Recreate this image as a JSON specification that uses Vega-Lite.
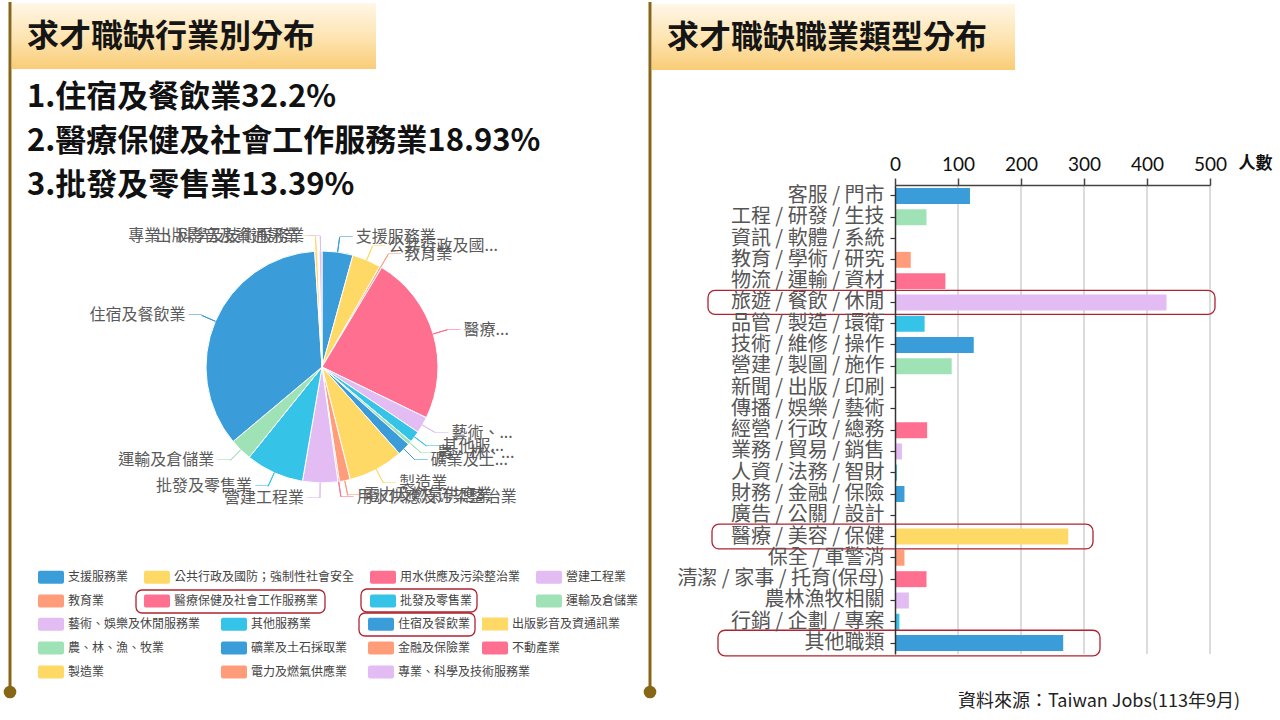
{
  "$schema": "https://vega.github.io/schema/vega-lite/v6.json",
  "padding": 0,
  "spacing": 0,
  "bounds": "flush",
  "background": "#ffffff",
  "config": {
    "view": {"stroke": null},
    "font": "Noto Sans CJK TC",
    "legend": {
      "direction": "horizontal",
      "symbolType": "M-0.85,-0.5L0.85,-0.5Q1,-0.5 1,-0.35L1,0.35Q1,0.5 0.85,0.5L-0.85,0.5Q-1,0.5 -1,0.35L-1,-0.35Q-1,-0.5 -0.85,-0.5Z",
      "symbolSize": 676,
      "symbolStrokeWidth": 0,
      "symbolOpacity": 1,
      "labelFontSize": 12,
      "labelFont": "Noto Sans CJK TC",
      "labelColor": "#444444",
      "labelOffset": 4,
      "columnPadding": 12,
      "rowPadding": 4,
      "labelLimit": 400,
      "padding": 0
    }
  },
  "datasets": {
    "ind": [
      {"idx": 1, "cat": "支援服務業", "label": "支援服務業", "pct": 4.3},
      {"idx": 2, "cat": "公共行政及國防；強制性社會安全", "label": "公共行政及國...", "pct": 4.0},
      {"idx": 3, "cat": "教育業", "label": "教育業", "pct": 0.3},
      {"idx": 4, "cat": "醫療保健及社會工作服務業", "label": "醫療...", "pct": 23.6},
      {"idx": 5, "cat": "藝術、娛樂及休閒服務業", "label": "藝術、...", "pct": 2.3},
      {"idx": 6, "cat": "其他服務業", "label": "其他服...", "pct": 1.6},
      {"idx": 7, "cat": "農、林、漁、牧業", "label": "農、林、...", "pct": 0.5},
      {"idx": 8, "cat": "礦業及土石採取業", "label": "礦業及土...", "pct": 1.8},
      {"idx": 9, "cat": "製造業", "label": "製造業", "pct": 7.7},
      {"idx": 10, "cat": "電力及燃氣供應業", "label": "電力及燃氣供應業", "pct": 1.5},
      {"idx": 11, "cat": "用水供應及污染整治業", "label": "用水供應及污染整治業", "pct": 0.2},
      {"idx": 12, "cat": "營建工程業", "label": "營建工程業", "pct": 4.9},
      {"idx": 13, "cat": "批發及零售業", "label": "批發及零售業", "pct": 8.1},
      {"idx": 14, "cat": "運輸及倉儲業", "label": "運輸及倉儲業", "pct": 3.1},
      {"idx": 15, "cat": "住宿及餐飲業", "label": "住宿及餐飲業", "pct": 35.1},
      {"idx": 16, "cat": "出版影音及資通訊業", "label": "出版影音及資通訊業", "pct": 0.4},
      {"idx": 17, "cat": "金融及保險業", "label": "", "pct": 0.1},
      {"idx": 18, "cat": "不動產業", "label": "", "pct": 0.1},
      {"idx": 19, "cat": "專業、科學及技術服務業", "label": "專業、科學及技術服務業", "pct": 0.4}
    ],
    "top3": [
      {"rank": 1, "line": "1.住宿及餐飲業32.2%"},
      {"rank": 2, "line": "2.醫療保健及社會工作服務業18.93%"},
      {"rank": 3, "line": "3.批發及零售業13.39%"}
    ],
    "job": [
      {"cat": "客服 / 門市", "n": 119},
      {"cat": "工程 / 研發 / 生技", "n": 50},
      {"cat": "資訊 / 軟體 / 系統", "n": 1},
      {"cat": "教育 / 學術 / 研究", "n": 25},
      {"cat": "物流 / 運輸 / 資材", "n": 80},
      {"cat": "旅遊 / 餐飲 / 休閒", "n": 431},
      {"cat": "品管 / 製造 / 環衛", "n": 47},
      {"cat": "技術 / 維修 / 操作", "n": 125},
      {"cat": "營建 / 製圖 / 施作", "n": 90},
      {"cat": "新聞 / 出版 / 印刷", "n": 0},
      {"cat": "傳播 / 娛樂 / 藝術", "n": 1},
      {"cat": "經營 / 行政 / 總務", "n": 51},
      {"cat": "業務 / 貿易 / 銷售", "n": 11},
      {"cat": "人資 / 法務 / 智財", "n": 3},
      {"cat": "財務 / 金融 / 保險", "n": 15},
      {"cat": "廣告 / 公關 / 設計", "n": 0},
      {"cat": "醫療 / 美容 / 保健", "n": 275},
      {"cat": "保全 / 軍警消", "n": 15},
      {"cat": "清潔 / 家事 / 托育(保母)", "n": 50},
      {"cat": "農林漁牧相關", "n": 22},
      {"cat": "行銷 / 企劃 / 專案", "n": 7},
      {"cat": "其他職類", "n": 267}
    ],
    "ticks": [{"n": 100}, {"n": 200}, {"n": 300}, {"n": 400}, {"n": 500}]
  },
  "resolve": {"scale": {"color": "independent"}, "legend": {"color": "independent"}},
  "hconcat": [
    {
      "width": 644,
      "height": 730,
      "layer": [
        {"data": {"values": [{}]}, "mark": {"type": "rule", "color": "#876716", "strokeWidth": 3}, "encoding": {"x": {"value": 10}, "y": {"value": 0}, "y2": {"value": 690}}},
        {"data": {"values": [{}]}, "mark": {"type": "point", "shape": "circle", "filled": true, "color": "#876716", "opacity": 1, "size": 160}, "encoding": {"x": {"value": 10}, "y": {"value": 690}}},
        {"data": {"values": [{}]}, "mark": {"type": "rect", "fill": {"gradient": "linear", "x1": 0, "y1": 0, "x2": 0, "y2": 1, "stops": [{"offset": 0, "color": "#fff7e8"}, {"offset": 0.55, "color": "#fde3ae"}, {"offset": 1, "color": "#f9cc76"}]}}, "encoding": {"x": {"value": 12}, "x2": {"value": 376}, "y": {"value": 1}, "y2": {"value": 67}}},
        {"data": {"values": [{}]}, "mark": {"type": "text", "text": "求才職缺行業別分布", "align": "left", "baseline": "middle", "fontSize": 32, "fontWeight": "bold", "color": "#151515"}, "encoding": {"x": {"value": 27}, "y": {"value": 35}}},
        {
          "data": {"name": "top3"},
          "mark": {"type": "text", "align": "left", "baseline": "middle", "fontSize": 31, "fontWeight": "bold", "color": "#111111"},
          "encoding": {
            "x": {"value": 27},
            "y": {"field": "rank", "type": "ordinal", "scale": {"type": "point", "range": [96, 184], "padding": 0}, "axis": null},
            "text": {"field": "line"}
          }
        },
        {
          "data": {"name": "ind"},
          "mark": {"type": "arc", "outerRadius": 116, "stroke": "#ffffff", "strokeWidth": 1},
          "encoding": {
            "theta": {"field": "pct", "type": "quantitative", "stack": true},
            "order": {"field": "idx", "type": "quantitative"},
            "color": {
              "field": "cat", "type": "nominal",
              "scale": {"domain": ["支援服務業","公共行政及國防；強制性社會安全","教育業","醫療保健及社會工作服務業","藝術、娛樂及休閒服務業","其他服務業","農、林、漁、牧業","礦業及土石採取業","製造業","電力及燃氣供應業","用水供應及污染整治業","營建工程業","批發及零售業","運輸及倉儲業","住宿及餐飲業","出版影音及資通訊業","金融及保險業","不動產業","專業、科學及技術服務業"], "range": ["#3a9dd9","#ffd966","#ff9d7b","#ff6f8f","#e2bcf3","#36c3e8","#9fe2b6"]},
              "legend": {"title": null, "orient": "none", "legendX": 38, "legendY": 562, "direction": "horizontal", "columns": 4, "columnPadding": 15, "values": ["支援服務業","公共行政及國防；強制性社會安全","用水供應及污染整治業","營建工程業","教育業","醫療保健及社會工作服務業","批發及零售業","運輸及倉儲業"]}
            }
          }
        },
        {
          "data": {"name": "ind"},
          "transform": [{"filter": "false"}],
          "mark": {"type": "arc", "opacity": 1},
          "encoding": {
            "theta": {"field": "pct", "type": "quantitative"},
            "fill": {
              "field": "cat", "type": "nominal",
              "scale": {"domain": ["藝術、娛樂及休閒服務業","其他服務業","住宿及餐飲業","農、林、漁、牧業","礦業及土石採取業","金融及保險業","製造業","電力及燃氣供應業","專業、科學及技術服務業"], "range": ["#e2bcf3","#36c3e8","#3a9dd9","#9fe2b6","#3a9dd9","#ff9d7b","#ffd966","#ff9d7b","#e2bcf3"]},
              "legend": {"title": null, "orient": "none", "legendX": 38, "legendY": 609, "direction": "horizontal", "columns": 3, "columnPadding": 20}
            }
          }
        },
        {
          "data": {"name": "ind"},
          "transform": [{"filter": "false"}],
          "mark": {"type": "arc", "filled": false, "opacity": 1},
          "encoding": {
            "theta": {"field": "pct", "type": "quantitative"},
            "stroke": {
              "field": "cat", "type": "nominal",
              "scale": {"domain": ["出版影音及資通訊業"], "range": ["#ffd966"]},
              "legend": {"title": null, "orient": "none", "legendX": 482, "legendY": 609, "direction": "horizontal", "columns": 1, "rowPadding": 4, "labelOffset": 4, "symbolType": "M-2,0L2,0", "symbolSize": 169, "symbolStrokeWidth": 13, "symbolFillColor": "transparent"}
            }
          }
        },
        {
          "data": {"name": "ind"},
          "transform": [{"filter": "false"}],
          "mark": {"type": "point", "filled": true, "color": "#ff6f8f", "opacity": 1},
          "encoding": {
            "shape": {
              "field": "cat", "type": "nominal",
              "scale": {"domain": ["不動產業"], "range": ["M-0.85,-0.5L0.85,-0.5Q1,-0.5 1,-0.35L1,0.35Q1,0.5 0.85,0.5L-0.85,0.5Q-1,0.5 -1,0.35L-1,-0.35Q-1,-0.5 -0.85,-0.5Z"]},
              "legend": {"title": null, "orient": "none", "legendX": 482, "legendY": 633, "direction": "horizontal", "columns": 1, "symbolFillColor": "#ff6f8f", "symbolStrokeWidth": 0, "symbolOpacity": 1}
            }
          }
        },
        {
          "data": {"name": "ind"},
          "transform": [
            {"stack": "pct", "groupby": [], "sort": [{"field": "idx", "order": "ascending"}], "as": ["s0", "s1"]},
            {"fold": ["s0", "s1"], "as": ["edge", "v"]},
            {"aggregate": [{"op": "mean", "field": "v", "as": "mid"}], "groupby": ["cat", "label", "idx"]},
            {"filter": "datum.label != ''"}
          ],
          "mark": {"type": "arc", "innerRadius": 116, "outerRadius": 131, "filled": false, "strokeWidth": 1},
          "encoding": {
            "theta": {"field": "mid", "type": "quantitative", "stack": null},
            "theta2": {"field": "mid"},
            "color": {
              "field": "cat", "type": "nominal",
              "scale": {"domain": ["支援服務業","公共行政及國防；強制性社會安全","教育業","醫療保健及社會工作服務業","藝術、娛樂及休閒服務業","其他服務業","農、林、漁、牧業","礦業及土石採取業","製造業","電力及燃氣供應業","用水供應及污染整治業","營建工程業","批發及零售業","運輸及倉儲業","住宿及餐飲業","出版影音及資通訊業","金融及保險業","不動產業","專業、科學及技術服務業"], "range": ["#3a9dd9","#ffd966","#ff9d7b","#ff6f8f","#e2bcf3","#36c3e8","#9fe2b6"]},
              "legend": null
            }
          }
        },
        {
          "data": {"name": "ind"},
          "transform": [
            {"stack": "pct", "groupby": [], "sort": [{"field": "idx", "order": "ascending"}], "as": ["s0", "s1"]},
            {"fold": ["s0", "s1"], "as": ["edge", "v"]},
            {"aggregate": [{"op": "mean", "field": "v", "as": "mid"}], "groupby": ["cat", "label", "idx"]},
            {"filter": "datum.label != '' && datum.mid < 50"}
          ],
          "mark": {"type": "text", "text": "─", "radius": 131, "align": "left", "baseline": "middle", "fontSize": 13},
          "encoding": {
            "theta": {"field": "mid", "type": "quantitative", "stack": null},
            "color": {
              "field": "cat", "type": "nominal",
              "scale": {"domain": ["支援服務業","公共行政及國防；強制性社會安全","教育業","醫療保健及社會工作服務業","藝術、娛樂及休閒服務業","其他服務業","農、林、漁、牧業","礦業及土石採取業","製造業","電力及燃氣供應業","用水供應及污染整治業","營建工程業","批發及零售業","運輸及倉儲業","住宿及餐飲業","出版影音及資通訊業","金融及保險業","不動產業","專業、科學及技術服務業"], "range": ["#3a9dd9","#ffd966","#ff9d7b","#ff6f8f","#e2bcf3","#36c3e8","#9fe2b6"]},
              "legend": null
            }
          }
        },
        {
          "data": {"name": "ind"},
          "transform": [
            {"stack": "pct", "groupby": [], "sort": [{"field": "idx", "order": "ascending"}], "as": ["s0", "s1"]},
            {"fold": ["s0", "s1"], "as": ["edge", "v"]},
            {"aggregate": [{"op": "mean", "field": "v", "as": "mid"}], "groupby": ["cat", "label", "idx"]},
            {"filter": "datum.label != '' && datum.mid >= 50"}
          ],
          "mark": {"type": "text", "text": "─", "radius": 131, "align": "right", "baseline": "middle", "fontSize": 13},
          "encoding": {
            "theta": {"field": "mid", "type": "quantitative", "stack": null},
            "color": {
              "field": "cat", "type": "nominal",
              "scale": {"domain": ["支援服務業","公共行政及國防；強制性社會安全","教育業","醫療保健及社會工作服務業","藝術、娛樂及休閒服務業","其他服務業","農、林、漁、牧業","礦業及土石採取業","製造業","電力及燃氣供應業","用水供應及污染整治業","營建工程業","批發及零售業","運輸及倉儲業","住宿及餐飲業","出版影音及資通訊業","金融及保險業","不動產業","專業、科學及技術服務業"], "range": ["#3a9dd9","#ffd966","#ff9d7b","#ff6f8f","#e2bcf3","#36c3e8","#9fe2b6"]},
              "legend": null
            }
          }
        },
        {
          "data": {"name": "ind"},
          "transform": [
            {"stack": "pct", "groupby": [], "sort": [{"field": "idx", "order": "ascending"}], "as": ["s0", "s1"]},
            {"fold": ["s0", "s1"], "as": ["edge", "v"]},
            {"aggregate": [{"op": "mean", "field": "v", "as": "mid"}], "groupby": ["cat", "label", "idx"]},
            {"filter": "datum.label != '' && datum.mid < 50"}
          ],
          "mark": {"type": "text", "radius": 131, "dx": 16, "align": "left", "baseline": "middle", "fontSize": 16, "color": "#5a5a5a"},
          "encoding": {
            "theta": {"field": "mid", "type": "quantitative", "stack": null},
            "text": {"field": "label"}
          }
        },
        {
          "data": {"name": "ind"},
          "transform": [
            {"stack": "pct", "groupby": [], "sort": [{"field": "idx", "order": "ascending"}], "as": ["s0", "s1"]},
            {"fold": ["s0", "s1"], "as": ["edge", "v"]},
            {"aggregate": [{"op": "mean", "field": "v", "as": "mid"}], "groupby": ["cat", "label", "idx"]},
            {"filter": "datum.label != '' && datum.mid >= 50"}
          ],
          "mark": {"type": "text", "radius": 131, "dx": -16, "align": "right", "baseline": "middle", "fontSize": 16, "color": "#5a5a5a"},
          "encoding": {
            "theta": {"field": "mid", "type": "quantitative", "stack": null},
            "text": {"field": "label"}
          }
        },
        {"data": {"values": [{}]}, "mark": {"type": "rect", "fill": null, "stroke": "#b0242f", "strokeWidth": 1.3, "cornerRadius": 6}, "encoding": {"x": {"value": 136}, "x2": {"value": 325}, "y": {"value": 588}, "y2": {"value": 611}}},
        {"data": {"values": [{}]}, "mark": {"type": "rect", "fill": null, "stroke": "#b0242f", "strokeWidth": 1.3, "cornerRadius": 6}, "encoding": {"x": {"value": 361}, "x2": {"value": 477}, "y": {"value": 587}, "y2": {"value": 610}}},
        {"data": {"values": [{}]}, "mark": {"type": "rect", "fill": null, "stroke": "#b0242f", "strokeWidth": 1.3, "cornerRadius": 6}, "encoding": {"x": {"value": 359}, "x2": {"value": 475}, "y": {"value": 611}, "y2": {"value": 634}}}
      ]
    },
    {
      "width": 636,
      "height": 730,
      "layer": [
        {"data": {"values": [{}]}, "mark": {"type": "rule", "color": "#876716", "strokeWidth": 3}, "encoding": {"x": {"value": 6}, "y": {"value": 0}, "y2": {"value": 690}}},
        {"data": {"values": [{}]}, "mark": {"type": "point", "shape": "circle", "filled": true, "color": "#876716", "opacity": 1, "size": 160}, "encoding": {"x": {"value": 6}, "y": {"value": 690}}},
        {"data": {"values": [{}]}, "mark": {"type": "rect", "fill": {"gradient": "linear", "x1": 0, "y1": 0, "x2": 0, "y2": 1, "stops": [{"offset": 0, "color": "#fff7e8"}, {"offset": 0.55, "color": "#fde3ae"}, {"offset": 1, "color": "#f9cc76"}]}}, "encoding": {"x": {"value": 8}, "x2": {"value": 371}, "y": {"value": 2}, "y2": {"value": 68}}},
        {"data": {"values": [{}]}, "mark": {"type": "text", "text": "求才職缺職業類型分布", "align": "left", "baseline": "middle", "fontSize": 32, "fontWeight": "bold", "color": "#151515"}, "encoding": {"x": {"value": 23}, "y": {"value": 36}}},
        {
          "data": {"name": "ticks"},
          "mark": {"type": "rule", "color": "#d0d0d0", "strokeWidth": 1.5},
          "encoding": {
            "x": {"field": "n", "type": "quantitative", "scale": {"domain": [0, 500], "range": [251, 566], "nice": false, "zero": true}},
            "y": {"value": 183},
            "y2": {"value": 652}
          }
        },
        {
          "data": {"name": "job"},
          "mark": {"type": "bar"},
          "encoding": {
            "y": {
              "field": "cat", "type": "nominal", "sort": null,
              "scale": {"domain": ["客服 / 門市","工程 / 研發 / 生技","資訊 / 軟體 / 系統","教育 / 學術 / 研究","物流 / 運輸 / 資材","旅遊 / 餐飲 / 休閒","品管 / 製造 / 環衛","技術 / 維修 / 操作","營建 / 製圖 / 施作","新聞 / 出版 / 印刷","傳播 / 娛樂 / 藝術","經營 / 行政 / 總務","業務 / 貿易 / 銷售","人資 / 法務 / 智財","財務 / 金融 / 保險","廣告 / 公關 / 設計","醫療 / 美容 / 保健","保全 / 軍警消","清潔 / 家事 / 托育(保母)","農林漁牧相關","行銷 / 企劃 / 專案","其他職類"], "range": [183, 652], "paddingInner": 0.25, "paddingOuter": 0.14},
              "axis": {"orient": "left", "offset": -251, "title": null, "grid": false, "domainColor": "#333333", "domainWidth": 1.5, "tickColor": "#333333", "tickSize": 5, "tickWidth": 1.2, "labelFontSize": 20, "labelFont": "Noto Sans CJK TC", "labelColor": "#555555", "labelPadding": 6, "labelLimit": 400, "labelOverlap": false, "zindex": 1}
            },
            "x": {
              "field": "n", "type": "quantitative",
              "scale": {"domain": [0, 500], "range": [251, 566], "nice": false, "zero": true},
              "axis": {"orient": "top", "offset": -183, "values": [0, 100, 200, 300, 400, 500], "grid": false, "domainColor": "#444444", "domainWidth": 1.5, "tickColor": "#444444", "tickWidth": 1.5, "tickSize": 7, "labelFontSize": 19, "labelFont": "Lato", "labelColor": "#111111", "labelPadding": 4, "labelFlush": false, "labelOverlap": false, "title": "人數", "titleX": 611, "titleY": -22, "titleAlign": "center", "titleBaseline": "middle", "titleAngle": 0, "titleFontSize": 17, "titleFontWeight": "bold", "titleColor": "#111111", "titleFont": "Noto Sans CJK TC", "zindex": 1}
            },
            "color": {
              "field": "cat", "type": "nominal",
              "scale": {"domain": ["客服 / 門市","工程 / 研發 / 生技","資訊 / 軟體 / 系統","教育 / 學術 / 研究","物流 / 運輸 / 資材","旅遊 / 餐飲 / 休閒","品管 / 製造 / 環衛","技術 / 維修 / 操作","營建 / 製圖 / 施作","新聞 / 出版 / 印刷","傳播 / 娛樂 / 藝術","經營 / 行政 / 總務","業務 / 貿易 / 銷售","人資 / 法務 / 智財","財務 / 金融 / 保險","廣告 / 公關 / 設計","醫療 / 美容 / 保健","保全 / 軍警消","清潔 / 家事 / 托育(保母)","農林漁牧相關","行銷 / 企劃 / 專案","其他職類"], "range": ["#3a9dd9","#9fe2b6","#ffd966","#ff9d7b","#ff6f8f","#e2bcf3","#36c3e8"]},
              "legend": null
            }
          }
        },
        {"data": {"values": [{}]}, "mark": {"type": "bar", "filled": false, "stroke": "#b0242f", "strokeWidth": 1.3, "cornerRadius": 7, "height": {"band": 1.5}}, "encoding": {"y": {"datum": "旅遊 / 餐飲 / 休閒", "type": "nominal"}, "x": {"value": 64}, "x2": {"value": 571}}},
        {"data": {"values": [{}]}, "mark": {"type": "bar", "filled": false, "stroke": "#b0242f", "strokeWidth": 1.3, "cornerRadius": 7, "height": {"band": 1.55}}, "encoding": {"y": {"datum": "醫療 / 美容 / 保健", "type": "nominal"}, "x": {"value": 68}, "x2": {"value": 449}}},
        {"data": {"values": [{}]}, "mark": {"type": "bar", "filled": false, "stroke": "#b0242f", "strokeWidth": 1.3, "cornerRadius": 7, "height": {"band": 1.6}}, "encoding": {"y": {"datum": "其他職類", "type": "nominal"}, "x": {"value": 74}, "x2": {"value": 456}}},
        {"data": {"values": [{}]}, "mark": {"type": "text", "text": "資料來源：Taiwan Jobs(113年9月)", "align": "right", "baseline": "middle", "fontSize": 18, "color": "#222222"}, "encoding": {"x": {"value": 596}, "y": {"value": 700}}}
      ]
    }
  ]
}
